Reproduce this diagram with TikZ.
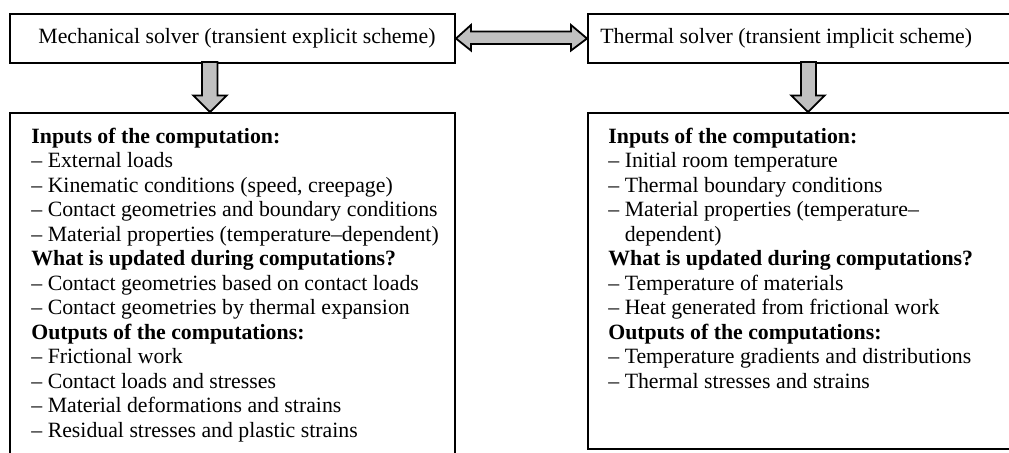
\documentclass[tikz,border=0pt]{standalone}
\usepackage{fontspec}
\setmainfont{Liberation Serif}
\definecolor{arrowgray}{HTML}{C0C0C0}
\begin{document}
\begin{tikzpicture}[x=0.5pt,y=-0.5pt,
  box/.style={draw=black,line width=1pt,inner sep=0pt,anchor=north west},
  arr/.style={draw=black,fill=arrowgray,line width=0.9pt,line join=miter},
  txt/.style={font=\fontsize{10.9}{12.25}\selectfont,inner sep=0pt,anchor=base west}]
\useasboundingbox (0,0) rectangle (1009,452);
\clip (0,0) rectangle (1009,452);
% title boxes
\node[box,minimum width=222.5pt,minimum height=24.5pt] (mech) at (9,13) {};
\node[box,minimum width=214pt,minimum height=24.5pt] (therm) at (587,13) {};
\node[txt] (mecht) at (38,43) {Mechanical solver (transient explicit scheme)};
\node[txt] (thermt) at (600,43) {Thermal solver (transient implicit scheme)};
% content boxes
\node[box,minimum width=222.5pt,minimum height=180pt] (mechin) at (9,112) {};
\node[box,minimum width=214pt,minimum height=168pt] (thermin) at (587,112) {};
% arrows
\draw[arr] (mech.east) -- (471,25) -- (471,31.5) -- (571,31.5) -- (571,25)
  -- (therm.west) -- (571,50.5) -- (571,44) -- (471,44) -- (471,50.5) -- cycle;
\draw[arr] (202,62) -- (202,95.5) -- (193.3,95.5) -- (210,112) -- (226.7,95.5)
  -- (217.5,95.5) -- (217.5,62) -- cycle;
\draw[arr] (801,62) -- (801,95.5) -- (791.3,95.5) -- (808,112) -- (824.7,95.5)
  -- (816,95.5) -- (816,62) -- cycle;
% left text
\foreach \t [count=\i from 0] in {
  {\textbf{Inputs of the computation:}},
  {– External loads},
  {– Kinematic conditions (speed, creepage)},
  {– Contact geometries and boundary conditions},
  {– Material properties (temperature–dependent)},
  {\textbf{What is updated during computations?}},
  {– Contact geometries based on contact loads},
  {– Contact geometries by thermal expansion},
  {\textbf{Outputs of the computations:}},
  {– Frictional work},
  {– Contact loads and stresses},
  {– Material deformations and strains},
  {– Residual stresses and plastic strains}}
  \node[txt] (l\i) at (31,143+24.5*\i) {\t};
% right text
\foreach \t [count=\i from 0] in {
  {\textbf{Inputs of the computation:}},
  {– Initial room temperature},
  {– Thermal boundary conditions},
  {– Material properties (temperature–},
  {\phantom{– }dependent)},
  {\textbf{What is updated during computations?}},
  {– Temperature of materials},
  {– Heat generated from frictional work},
  {\textbf{Outputs of the computations:}},
  {– Temperature gradients and distributions},
  {– Thermal stresses and strains}}
  \node[txt] (r\i) at (608,143+24.5*\i) {\t};
\end{tikzpicture}
\end{document}
